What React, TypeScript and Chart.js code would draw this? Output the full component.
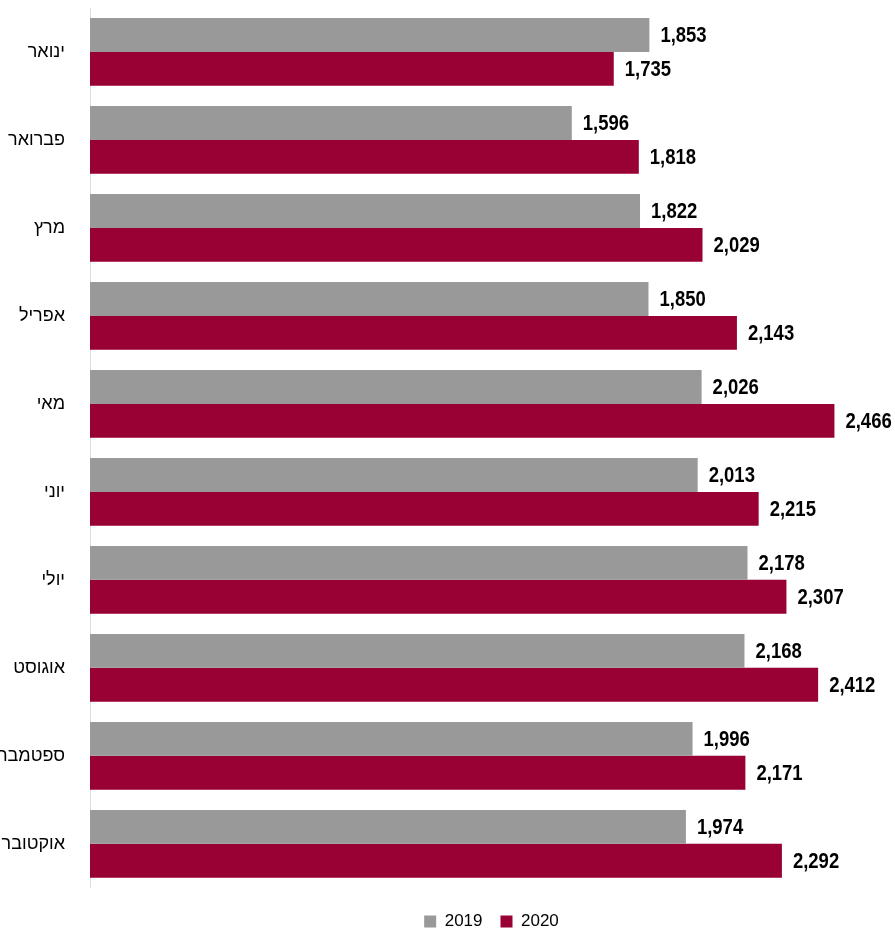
import React, { useEffect, useRef } from "react";
import { Chart, registerables } from "chart.js";

Chart.register(...registerables);

const months = ["ינואר", "פברואר", "מרץ", "אפריל", "מאי", "יוני", "יולי", "אוגוסט", "ספטמבר", "אוקטובר"];
const values2019 = [1853, 1596, 1822, 1850, 2026, 2013, 2178, 2168, 1996, 1974];
const values2020 = [1735, 1818, 2029, 2143, 2466, 2215, 2307, 2412, 2171, 2292];
const seriesNames = ["2019", "2020"];

const FONT = '"Liberation Sans", "DejaVu Sans", sans-serif';

const valueLabels = {
  id: "valueLabels",
  afterDatasetsDraw(chart: any) {
    const ctx = chart.ctx;
    chart.data.datasets.forEach((ds: any, di: number) => {
      const meta = chart.getDatasetMeta(di);
      meta.data.forEach((bar: any, i: number) => {
        const v = ds.data[i];
        ctx.save();
        ctx.font = `bold 22px ${FONT}`;
        ctx.fillStyle = "#000";
        ctx.textAlign = "left";
        ctx.textBaseline = "middle";
        ctx.translate(bar.x + 11, bar.y + 1);
        ctx.scale(0.84, 1);
        ctx.fillText(v.toLocaleString("en-US"), 0, 0);
        ctx.restore();
      });
    });
  },
};

export default function App() {
  const ref = useRef<HTMLCanvasElement>(null);
  useEffect(() => {
    if (!ref.current) return;
    const chart = new Chart(ref.current, {
      type: "bar",
      data: {
        labels: months,
        datasets: [
          { label: seriesNames[0], data: values2019, backgroundColor: "#999999" },
          { label: seriesNames[1], data: values2020, backgroundColor: "#990033" },
        ],
      },
      options: {
        indexAxis: "y",
        animation: false,
        responsive: true,
        maintainAspectRatio: false,
        layout: { padding: { top: 8, right: 2, bottom: -9, left: 0 } },
        datasets: { bar: { categoryPercentage: 0.77, barPercentage: 1 } },
        scales: {
          x: {
            display: false,
            min: 0,
            max: 2660,
          },
          y: {
            grid: { display: false },
            border: { display: true, color: "#dddddd", width: 1 },
            ticks: {
              color: "#000",
              padding: 17,
              font: { family: FONT, size: 18 },
            },
            afterFit(scale: any) {
              scale.width = 90;
              scale.paddingTop = 0;
              scale.paddingBottom = 0;
            },
          },
        },
        plugins: {
          tooltip: { enabled: false },
          legend: {
            position: "bottom",
            fullSize: false,
            title: {
              display: true,
              text: "",
              font: { size: 1 },
              padding: { top: 0, bottom: 6, left: 0, right: 0 },
            },
            labels: {
              boxWidth: 12,
              boxHeight: 12,
              padding: 18,
              color: "#000",
              font: { family: FONT, size: 17 },
            },
          },
        },
      },
      plugins: [valueLabels],
    });
    return () => chart.destroy();
  }, []);
  return (
    <div style={{ position: "fixed", left: 0, top: 0, width: 895, height: 931, background: "#fff" }}>
      <canvas ref={ref} />
    </div>
  );
}
